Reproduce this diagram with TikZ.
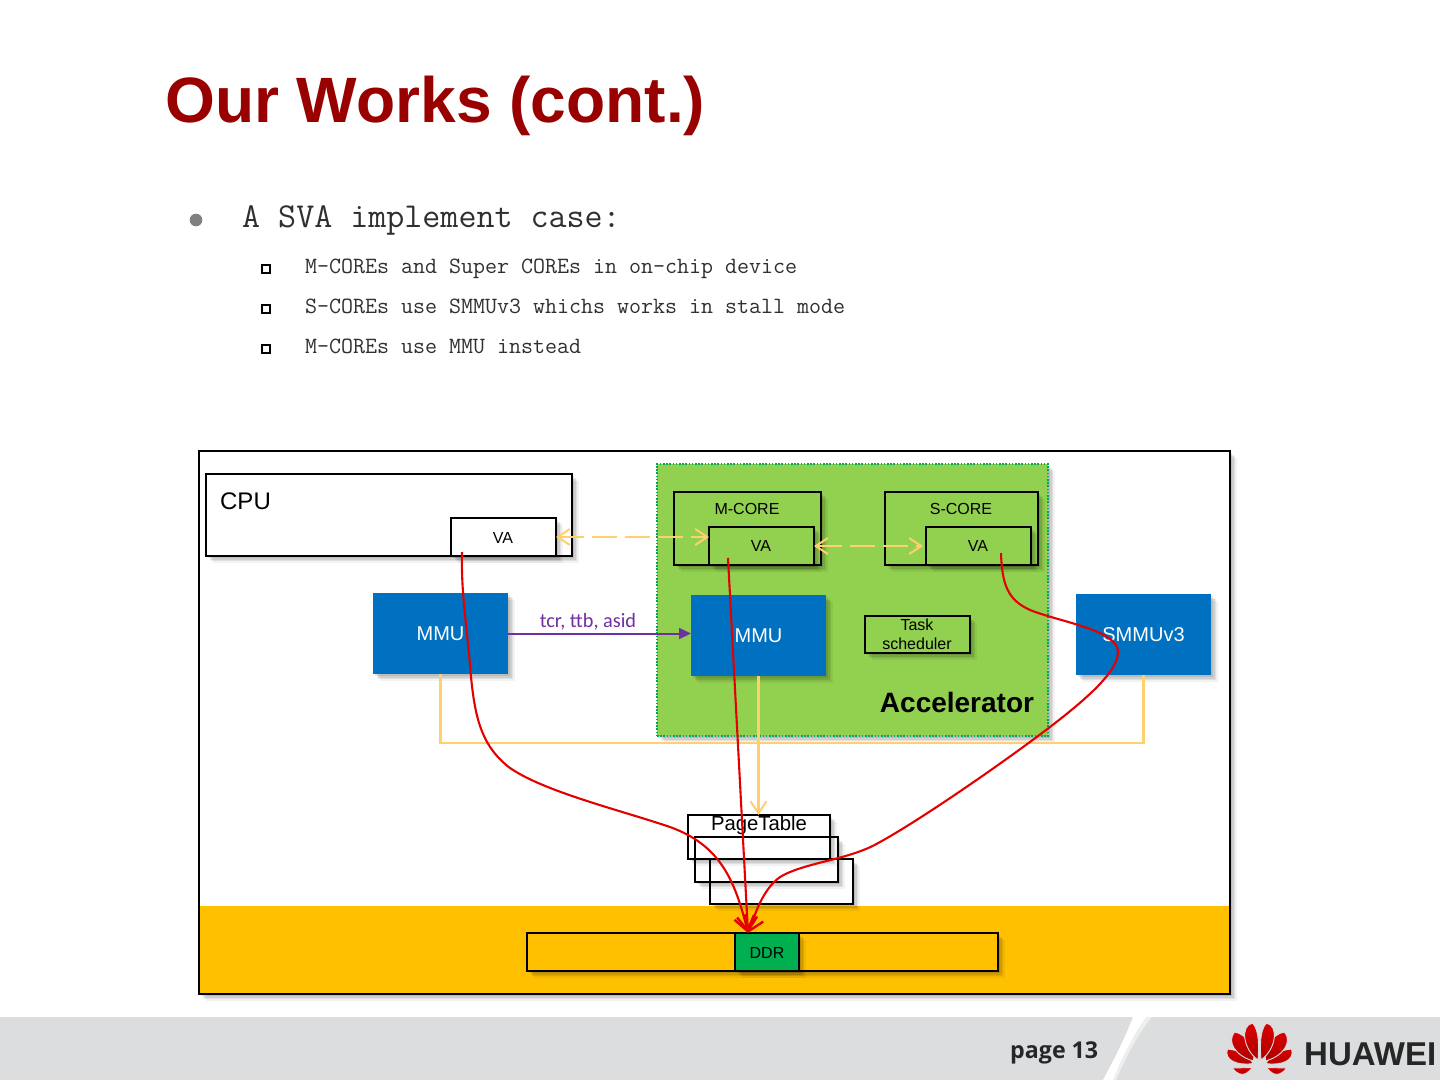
\documentclass[tikz,border=0pt]{standalone}
\usepackage{fontspec}
\setmainfont{Liberation Sans}
\newfontfamily\carlitofont{Carlito}
\newfontfamily\opensansfont{Open Sans}
\usetikzlibrary{arrows.meta,shadows,calc}
\definecolor{titlered}{HTML}{990000}
\definecolor{footgrey}{HTML}{DCDDDE}
\definecolor{mmublue}{HTML}{0070C0}
\definecolor{accgreen}{HTML}{92D050}
\definecolor{dotgreen}{HTML}{00A650}
\definecolor{ddrgreen}{HTML}{00B050}
\definecolor{band}{HTML}{FFC000}
\definecolor{soft}{HTML}{FFCF70}
\definecolor{purp}{HTML}{7030A0}
\definecolor{bodygrey}{HTML}{303030}
\tikzset{
  softshadow/.style={
    general shadow={fill=black,opacity=.05,shadow xshift=6.5pt,shadow yshift=-6.5pt},
    general shadow={fill=black,opacity=.07,shadow xshift=5pt,shadow yshift=-5pt},
    general shadow={fill=black,opacity=.08,shadow xshift=3.5pt,shadow yshift=-3.5pt},
    general shadow={fill=black,opacity=.09,shadow xshift=2pt,shadow yshift=-2pt}},
  box/.style={rectangle,inner sep=0pt,outer sep=0pt},
  linebox/.style={box,draw=black,line width=1.9pt},
  whitebox/.style={linebox,fill=white,softshadow},
  greenbox/.style={linebox,softshadow,fill=accgreen},
  bluebox/.style={box,fill=mmublue,softshadow,text=white,font=\fontsize{20}{22}\selectfont},
  lbl/.style={inner sep=0pt,font=\fontsize{16}{18}\selectfont},
  softline/.style={draw=soft,line width=2.1pt},
  softdash/.style={draw=soft,line width=2.4pt,dash pattern=on 25pt off 8pt,
    {Straight Barb[length=12pt,width=16pt,line width=2pt]}-{Straight Barb[length=12pt,width=16pt,line width=2pt]}},
  redline/.style={draw=red!90!black,line width=2.1pt,-{Straight Barb[length=14pt,width=20pt,line width=2.4pt]}},
  subtext/.style={anchor=base west,inner sep=0pt,text=bodygrey,font=\fontsize{23.3}{25}\ttfamily},
  sqbullet/.style={box,draw=black,line width=2.3pt,minimum size=7.5pt},
  petal/.style={top color=red!85!black,bottom color=red!68!black,draw=footgrey,line width=.9pt},
}
\begin{document}
\begin{tikzpicture}[x=1pt,y=-1pt]
\useasboundingbox (0,0) rectangle (1440,1080);
\fill[white] (0,0) rectangle (1440,1080);
% footer
\fill[footgrey] (0,1017) rectangle (1440,1080);
\fill[white,opacity=.5] (1133,1017) .. controls (1126,1036) and (1114,1060) .. (1103,1080) -- (1116,1080) .. controls (1124,1062) and (1136,1036) .. (1152,1017) -- cycle;
\fill[white] (1133,1017) .. controls (1126,1036) and (1114,1060) .. (1103,1080) -- (1113,1080) .. controls (1120,1062) and (1132,1036) .. (1146,1017) -- cycle;
\node[anchor=base west,inner sep=0pt,text=black!85,font=\fontsize{23.2}{25}\opensansfont\bfseries] (pagenum) at (1010,1058) {page 13};
\foreach \s in {1,-1}{
  \begin{scope}[shift={(1259.5,0)},xscale=\s]
    \shade[petal] (-6.5,1063.5) .. controls (-22,1066) and (-36,1060) .. (-32,1049)
      .. controls (-20,1050) and (-10,1056) .. cycle;
    \shade[petal] (-6,1061) .. controls (-24,1056) and (-33,1042) .. (-25,1032)
      .. controls (-12,1034) and (-4,1050) .. cycle;
    \shade[petal] (-1.5,1060) .. controls (-16,1050) and (-20,1026) .. (-7,1023)
      .. controls (0,1030) and (-0.5,1048) .. cycle;
    \shade[petal] (-7,1067.5) -- (-27,1068) .. controls (-23,1074) and (-18,1075) .. (-15,1074)
      .. controls (-12,1073) and (-9,1070) .. cycle;
  \end{scope}
}
\node[anchor=base west,inner sep=0pt,text=black!85,font=\fontsize{33}{35}\selectfont\bfseries] (huawei) at (1304,1065) {HUAWEI};
% title and bullets
\node[anchor=base west,inner sep=0pt,text=titlered,font=\fontsize{64.1}{70}\selectfont\bfseries] (title) at (165,122) {Our Works (cont.)};
\fill[black!50] (196,220) circle (6.3);
\node[anchor=base west,inner sep=0pt,text=bodygrey,font=\fontsize{35}{37}\ttfamily] (head) at (242,227) {A SVA implement case:};
\node[sqbullet] (b1) at (266,269) {};
\node[sqbullet] (b2) at (266,309) {};
\node[sqbullet] (b3) at (266,349) {};
\node[subtext] (s1) at (305,273) {M-COREs and Super COREs in on-chip device};
\node[subtext] (s2) at (305,313) {S-COREs use SMMUv3 whichs works in stall mode};
\node[subtext] (s3) at (305,353) {M-COREs use MMU instead};
% frame
\node[box,fill=white,softshadow,minimum width=1031pt,minimum height=543pt] (frame) at (714.5,722.5) {};
\fill[band] (199,906) rectangle (1230,994);
\draw[black,line width=1.9pt] (frame.north west) rectangle (frame.south east);
% CPU
\node[whitebox,minimum width=366pt,minimum height=82pt] (cpu) at (389,515) {};
\node[inner sep=0pt,font=\fontsize{24}{26}\selectfont] (cputxt) at (245.5,501) {CPU};
\node[whitebox,minimum width=105pt,minimum height=38pt] (cpuva) at (503.5,537) {};
\node[lbl] (cpuvatxt) at (503,537.5) {VA};
% Accelerator
\node[box,fill=accgreen,draw=dotgreen,line width=1.8pt,dash pattern=on 1.6pt off 1.6pt,softshadow,minimum width=391pt,minimum height=272pt] (acc) at (852.5,600) {};
\node[inner sep=0pt,font=\fontsize{28}{30}\selectfont\bfseries] (acctxt) at (957,702) {Accelerator};
\node[greenbox,minimum width=147pt,minimum height=73pt] (mcore) at (747.5,528.5) {};
\node[lbl] (mcoretxt) at (747,509) {M-CORE};
\node[greenbox,minimum width=105pt,minimum height=38pt] (mva) at (761.5,546) {};
\node[lbl] (mvatxt) at (761,545.5) {VA};
\node[greenbox,minimum width=153pt,minimum height=73pt] (score) at (961.5,528.5) {};
\node[lbl] (scoretxt) at (961,509) {S-CORE};
\node[greenbox,minimum width=105pt,minimum height=38pt] (sva) at (978.5,546) {};
\node[lbl] (svatxt) at (978,545.5) {VA};
\node[greenbox,minimum width=105pt,minimum height=37pt] (task) at (917.5,634.5) {};
\node[lbl,align=center,font=\fontsize{16}{19}\selectfont] (tasktxt) at (917,634.5) {Task\\scheduler};
% blue boxes
\node[bluebox,minimum width=135pt,minimum height=81pt] (mmua) at (440.5,633.5) {MMU};
\node[bluebox,minimum width=135pt,minimum height=81pt] (mmub) at (758.5,635.5) {MMU};
\node[bluebox,minimum width=135pt,minimum height=81pt] (smmu) at (1143.5,634.5) {SMMUv3};
% page tables
\node[box,fill=white,softshadow,minimum width=143pt,minimum height=45pt] (pt3) at (781.5,881.5) {};
\node[box,fill=white,softshadow,minimum width=143pt,minimum height=45pt] (pt2) at (766.5,859.5) {};
\node[box,fill=white,softshadow,minimum width=142pt,minimum height=44pt] (pt1) at (759,837) {};
\foreach \n in {pt3,pt2,pt1}{\draw[black,line width=1.9pt] (\n.north west) rectangle (\n.south east);}
\node[inner sep=0pt,font=\fontsize{20.3}{22}\selectfont] (pttxt) at (759,825) {PageTable};
% DDR
\node[linebox,softshadow,fill=band,minimum width=471pt,minimum height=38pt] (ddrbar) at (762.5,952) {};
\node[linebox,softshadow,fill=ddrgreen,minimum width=64pt,minimum height=38pt] (ddr) at (767,952) {};
\node[lbl] (ddrtxt) at (767,952.5) {DDR};
% soft connectors
\draw[softline] (mmua.south) -- ++(0,69) -| (smmu.south);
\draw[softline,-{Straight Barb[length=12pt,width=16pt,line width=2pt]}] (mmub.south) -- (pt1.north -| mmub.south);
\path[softdash,draw] (cpuva.east) -- (mva.west |- cpuva.east);
\path[softdash,draw] (mva.east) -- ($(sva.west)+(-3,0)$);
% purple
\draw[draw=purp,line width=2pt,-{Triangle[length=12pt,width=11pt]}] (mmua.east) -- (mmub.west |- mmua.east);
\node[inner sep=0pt,text=purp,font=\fontsize{20.3}{22}\carlitofont] (tcr) at (588,622) {tcr, ttb, asid};
% red paths
\coordinate (ra) at (462,552);
\coordinate (rb) at (728,558);
\coordinate (rc) at (1001,553);
\coordinate (rt) at (748,933);
\draw[redline] (ra) .. controls (461,590) and (466,620) .. (470,665)
  .. controls (474,715) and (480,745) .. (510,768)
  .. controls (545,792) and (620,810) .. (670,827)
  .. controls (720,845) and (735,880) .. (rt);
\draw[redline] (rb) -- (rt);
\draw[redline] (rc) .. controls (1002,585) and (1008,600) .. (1030,610)
  .. controls (1060,622) and (1118,630) .. (1118,652)
  .. controls (1118,672) and (1085,700) .. (1050,727)
  .. controls (1000,765) and (920,820) .. (880,842)
  .. controls (850,860) and (805,862) .. (780,877)
  .. controls (762,890) and (755,915) .. (rt);
\end{tikzpicture}
\end{document}
